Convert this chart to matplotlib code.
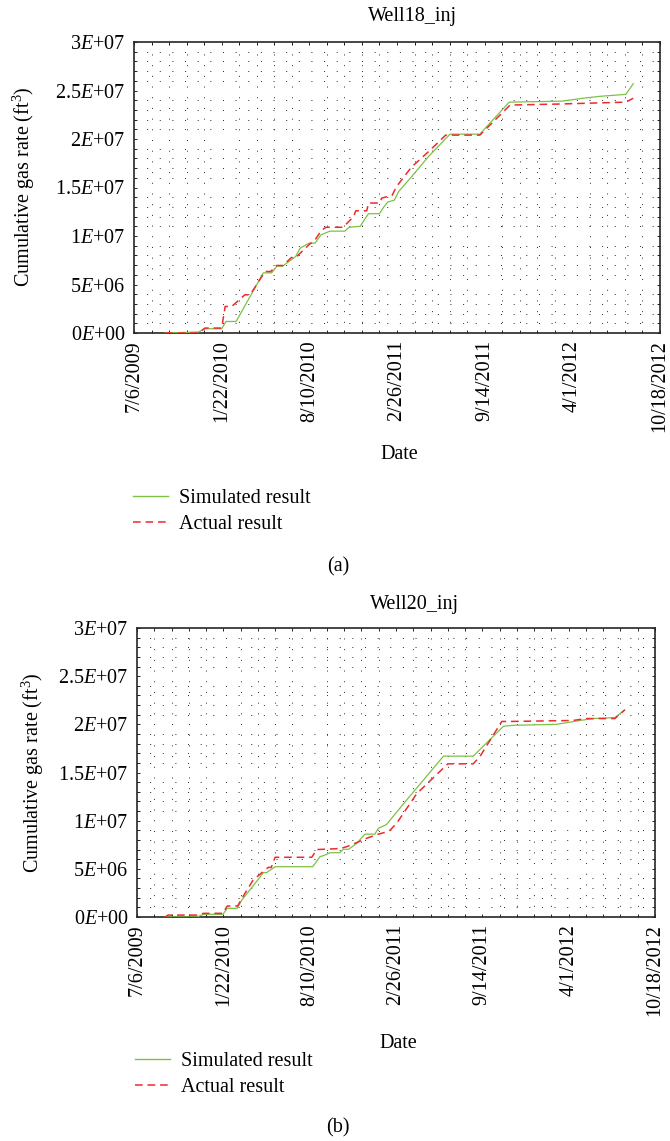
import matplotlib
matplotlib.use("Agg")
import matplotlib.pyplot as plt
from matplotlib.lines import Line2D
import numpy as np

plt.rcParams['font.family'] = ['Liberation Serif', 'DejaVu Serif']
plt.rcParams['mathtext.fontset'] = 'custom'
plt.rcParams['mathtext.rm'] = 'Liberation Serif'
plt.rcParams['mathtext.it'] = 'Liberation Serif:italic'

# ---- data (x = days since 7/6/2009, y = cumulative gas in 1E6 ft^3) ----
sim18_days = [71, 147, 162, 200, 210, 233, 295, 314, 326, 339, 369, 379, 399, 413, 426, 447, 481, 491,
              516, 526, 535, 560, 570, 579, 594, 604, 633, 672, 721, 789, 856, 975, 1024, 1063, 1122, 1139]
sim18_vals = [0, 0.1, 0.44, 0.44, 1.19, 1.19, 6.2, 6.2, 6.89, 6.89, 7.89, 8.74, 9.26, 9.26, 10.1, 10.5, 10.5, 10.9,
              11.0, 11.7, 12.3, 12.3, 13.0, 13.5, 13.7, 14.6, 16.1, 18.2, 20.5, 20.5, 23.8, 23.9, 24.2, 24.4, 24.6, 25.7]
act18_days = [71, 147, 162, 200, 208, 223, 253, 265, 299, 312, 325, 340, 359, 369, 399, 413, 428, 438,
              477, 501, 506, 531, 535, 560, 565, 589, 599, 633, 672, 711, 789, 858, 965, 1122, 1139]
act18_vals = [0, 0, 0.51, 0.51, 2.74, 2.74, 3.94, 3.94, 6.34, 6.34, 6.96, 6.96, 7.78, 7.78, 9.09, 9.6, 10.6, 10.9,
              10.9, 12.0, 12.6, 12.6, 13.4, 13.4, 13.9, 14.2, 15.1, 17.1, 18.7, 20.4, 20.4, 23.5, 23.6, 23.8, 24.2]

sim20_days = [65, 139, 154, 199, 209, 232, 243, 293, 300, 320, 407, 424, 436, 447, 470, 478, 490, 509,
              528, 551, 559, 578, 622, 710, 779, 849, 872, 972, 1026, 1057, 1107, 1130]
sim20_vals = [0, 0, 0.28, 0.28, 0.9, 0.9, 1.76, 4.6, 4.6, 5.22, 5.22, 6.26, 6.44, 6.67, 6.67, 7.03, 7.03, 7.64,
              8.6, 8.6, 9.2, 9.6, 12.0, 16.7, 16.7, 19.8, 19.9, 20.0, 20.4, 20.6, 20.7, 21.5]
act20_days = [65, 72, 139, 154, 199, 209, 233, 243, 269, 304, 311, 320, 405, 416, 470, 486, 513, 532,
              559, 584, 602, 648, 720, 779, 795, 845, 867, 1010, 1040, 1107, 1130]
act20_vals = [0, 0.2, 0.2, 0.38, 0.38, 1.14, 1.14, 1.93, 3.84, 5.15, 5.15, 6.2, 6.2, 7.0, 7.1, 7.3, 7.8, 8.17,
              8.6, 8.9, 9.76, 12.8, 15.9, 15.9, 16.7, 20.3, 20.3, 20.4, 20.6, 20.6, 21.5]

x_tick_days = [0, 200, 400, 600, 800, 1000, 1200]
x_tick_labels = ['7/6/2009', '1/22/2010', '8/10/2010', '2/26/2011', '9/14/2011', '4/1/2012', '10/18/2012']
y_ticks = [0, 5e6, 1e7, 1.5e7, 2e7, 2.5e7, 3e7]
y_tick_labels = ['0$E$+00', '5$E$+06', '1$E$+07', '1.5$E$+07', '2$E$+07', '2.5$E$+07', '3$E$+07']
titles = ['Well18_inj', 'Well20_inj']
series_labels = ['Simulated result', 'Actual result']
panel_labels = ['(a)', '(b)']

GREEN = '#7cc242'
RED = '#ee2a2e'
FS = 14.5
W, H = 670, 1141
fig = plt.figure(figsize=(W / 100, H / 100), dpi=100)


def fx(px):
    return px / W


def fy(py):
    return 1 - py / H


def panel(rect_px, sd, sv, ad, av, title, title_px, ylabel_px, date_py, leg_px, panel_px, plabel):
    l, t, r, b = rect_px
    ax = fig.add_axes([fx(l), fy(b), fx(r - l), (b - t) / H])
    ax.plot(sd, np.array(sv) * 1e6, color=GREEN, lw=0.9, zorder=3)
    ax.plot(ad, np.array(av) * 1e6, color=RED, lw=1.1, ls=(0, (5, 3.2)), zorder=4)
    ax.set_xlim(0, 1200)
    ax.set_ylim(0, 3e7)
    ax.set_xticks(x_tick_days)
    ax.set_xticklabels(x_tick_labels, rotation=90, fontsize=FS)
    ax.set_yticks(y_ticks)
    ax.set_yticklabels(y_tick_labels, fontsize=FS)
    ax.set_xticks(np.arange(0, 1201, 40), minor=True)
    ax.set_yticks(np.arange(0, 3.01e7, 1e6), minor=True)
    ax.tick_params(which='both', direction='in', top=True, right=True, length=2.5, width=0.6, pad=6)
    ax.tick_params(axis='x', which='major', pad=5)
    ax.grid(True, which='minor', axis='y', color='0.15', lw=0.7, ls=(0, (1, 12)))
    ax.grid(True, which='minor', axis='x', color='0.15', lw=0.7, ls=(0, (1, 10)))
    for s in ax.spines.values():
        s.set_linewidth(1.2)
        s.set_color('0.15')
    fig.text(fx(title_px[0]), fy(title_px[1]), title, ha='center', va='center', fontsize=FS)
    fig.text(fx(ylabel_px[0]), fy(ylabel_px[1]), 'Cumulative gas rate (ft$^{3}$)', rotation=90,
             ha='center', va='center', fontsize=FS)
    fig.text(fx((l + r) / 2 + 2), fy(date_py), 'Date', ha='center', va='center', fontsize=FS)
    handles = [Line2D([], [], color=GREEN, lw=1.0),
               Line2D([], [], color=RED, lw=1.1, ls=(0, (5, 3.2)))]
    fig.legend(handles, series_labels, loc='upper left',
               bbox_to_anchor=(fx(leg_px[0]), fy(leg_px[1])), frameon=False,
               fontsize=FS, handlelength=1.75, handletextpad=0.55, labelspacing=0.35,
               borderaxespad=0, borderpad=0)
    fig.text(fx(panel_px[0]), fy(panel_px[1]), plabel, ha='center', va='center', fontsize=FS)
    return ax


panel((134, 42, 660, 333), sim18_days, sim18_vals, act18_days, act18_vals,
      titles[0], (413, 17), (24, 187), 455, (133, 489), (338, 567), panel_labels[0])
panel((137, 628, 655, 917), sim20_days, sim20_vals, act20_days, act20_vals,
      titles[1], (415, 605), (33, 773), 1043, (135, 1052), (338, 1128), panel_labels[1])

fig.savefig('out.png', dpi=100)
